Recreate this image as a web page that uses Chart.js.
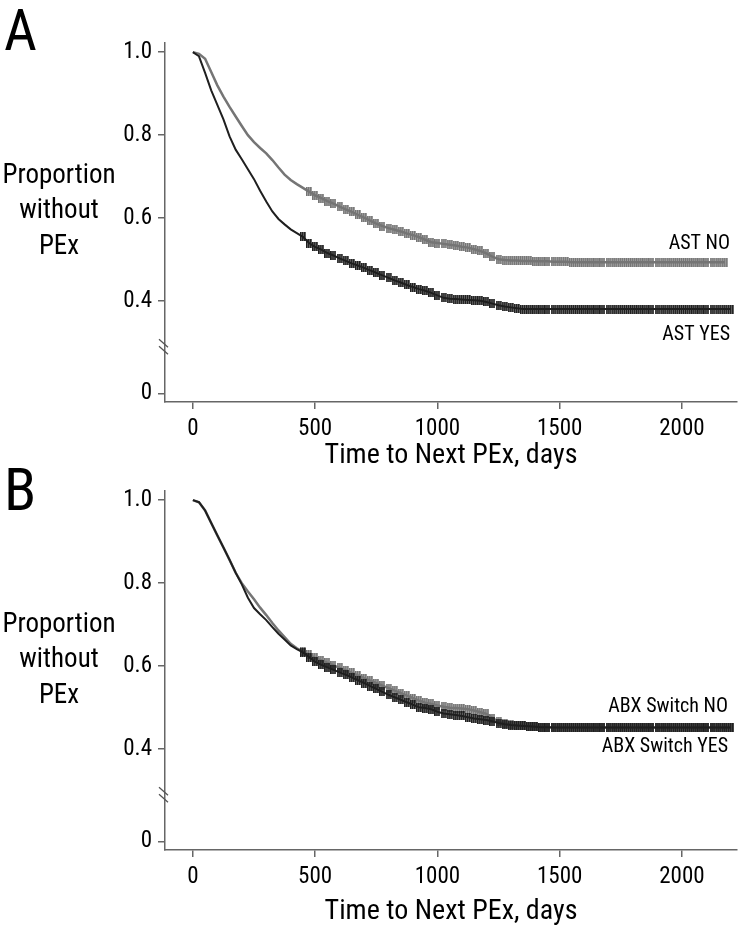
<!DOCTYPE html>
<html><head><meta charset="utf-8">
<script src="https://cdn.jsdelivr.net/npm/chart.js@4.4.0/dist/chart.umd.min.js"></script>
<style>
html,body{margin:0;padding:0;background:#fff;width:741px;height:933px;overflow:hidden;position:relative}
.p{position:absolute;left:0;width:741px}
#ca{top:0;height:470px}
#cb{top:448px;height:485px}
</style></head><body>
<div class="p" id="ca"><canvas id="a"></canvas></div>
<div class="p" id="cb"><canvas id="b"></canvas></div>
<script>
const FONT = "'Liberation Sans Narrow','Arial Narrow','Nimbus Sans Narrow','Roboto Condensed','Liberation Sans',sans-serif";

// ---- data ----
const times = [0,25,50,75,100,125,150,175,200,225,250,275,300,325,350,375,400,425,450,475,500,525,550,575,600,625,650,675,700,725,750,775,800,825,850,875,900,925,950,975,1000,1025,1050,1075,1100,1125,1150,1175,1200,1225,1250,1275,1300,1325,1350,1375,1400,1425,1450,1475,1500,1525,1550,1575,1600,1625,1650,1675,1700,1725,1750,1775,1800,1825,1850,1875,1900,1925,1950,1975,2000,2025,2050,2075,2100,2125,2150,2175,2200];

const astNo = [1.000,.996,.984,.952,.920,.893,.868,.845,.822,.800,.783,.769,.756,.740,.722,.705,.692,.682,.673,.664,.655,.648,.641,.635,.628,.621,.615,.608,.601,.594,.587,.581,.576,.572,.568,.563,.559,.554,.548,.542,.540,.538,.536,.534,.531,.529,.525,.521,.515,.507,.501,.499,.498,.498,.497,.497,.496,.496,.496,.495,.495,.495,.494,
.494,.494,.494,.494,.494,.494,.494,.494,.494,.494,.494,.494,.494,.494,.494,.494,.494,.494,.494,.494,.494,.494,.494,.494,.494];

const astYes = [1.000,.990,.950,.908,.873,.838,.797,.765,.742,.718,.694,.666,.640,.616,.598,.585,.573,.564,.555,.540,.531,.524,.516,.510,.503,.497,.491,.486,.480,.474,.468,.462,.456,.450,.445,.439,.434,.429,.425,.420,.414,.408,.406,.405,.404,.403,.402,.401,.398,.394,.390,.387,.385,.383,.381,
.381,.381,.381,.381,.381,.381,.381,.381,.381,.381,.381,.381,.381,.381,.381,.381,.381,.381,.381,.381,.381,.381,.381,.381,.381,.381,.381,.381,.381,.381,.381,.381,.381,.381];

const abxNo = [1.000,.995,.975,.945,.915,.886,.856,.825,.800,.780,.761,.741,.723,.704,.686,.670,.654,.643,.635,.628,.620,.614,.608,.602,.596,.590,.584,.578,.571,.565,.559,.553,.547,.541,.535,.529,.523,.517,.512,.509,.505,.502,.500,.499,.498,.496,.493,.489,.485,.475,.466,.462,.459,.457,.456,.455,.454,.453,.453,.452,
.452,.452,.452,.452,.452,.452,.452,.452,.452,.452,.452,.452,.452,.452,.452,.452,.452,.452,.452,.452,.452,.452,.452,.452,.452,.452,.452,.452,.452];

const abxYes = [1.000,.995,.975,.945,.915,.886,.856,.825,.797,.765,.740,.725,.711,.694,.678,.664,.650,.641,.633,.622,.610,.603,.597,.591,.585,.579,.573,.566,.559,.552,.545,.538,.531,.525,.519,.513,.507,.501,.499,.496,.490,.486,.484,.482,.480,.477,.474,.472,.470,.467,.463,.460,.458,.457,.456,.455,.454,.453,.453,.452,
.452,.452,.452,.452,.452,.452,.452,.452,.452,.452,.452,.452,.452,.452,.452,.452,.452,.452,.452,.452,.452,.452,.452,.452,.452,.452,.452,.452,.452];

const xTicks = [0,500,1000,1500,2000];
const xTickLabels = ['0','500','1000','1500','2000'];
const yTicks = [0.4,0.6,0.8,1.0];
const yTickLabels = ['0.4','0.6','0.8','1.0'];
const zeroLabel = '0';
const xTitle = 'Time to Next PEx, days';
const yTitleLines = ['Proportion','without','PEx'];

// ---- broken axis emulation ----
const Y_MIN = 0.157, Y_MAX = 1.022, ZERO_AT = 0.178, BREAK_AT = 0.29;
const GRAY = '#757575', DARK = '#1f1f1f', AXIS = '#666';

function makeMark(color){
  const c = document.createElement('canvas'); c.width = 6; c.height = 9;
  const g = c.getContext('2d'); g.fillStyle = color;
  g.fillRect(0,0,1.7,9); g.fillRect(2,0,1.7,9); g.fillRect(4,0,1.7,9);
  return c;
}

const deco = {
  id: 'deco',
  afterDraw(chart, args, o) {
    const ctx = chart.ctx, ys = chart.scales.y, x0 = chart.chartArea.left;
    ctx.save();
    const by = ys.getPixelForValue(BREAK_AT);
    ctx.strokeStyle = '#555'; ctx.lineWidth = 1.3;
    ctx.beginPath();
    ctx.moveTo(x0-6, by-7.5); ctx.lineTo(x0+3, by+0.5);
    ctx.moveTo(x0-6, by-0.5); ctx.lineTo(x0+3, by+7.5);
    ctx.stroke();
    ctx.fillStyle = '#000';
    ctx.textAlign = 'left'; ctx.textBaseline = 'alphabetic';
    ctx.font = o.letterSize + 'px ' + FONT;
    ctx.fillText(o.letter, 4, o.letterBase);
    ctx.font = '27px ' + FONT; ctx.textAlign = 'center'; ctx.textBaseline = 'middle';
    yTitleLines.forEach((t,i) => ctx.fillText(t, 59, o.titleY + i*35.5));
    ctx.font = '20px ' + FONT; ctx.textAlign = 'right';
    o.labels.forEach(l => ctx.fillText(l.text, l.x, l.y));
    ctx.restore();
  }
};

function build(id, series, o) {
  const fnt = {family: FONT, size: 23};
  const yLabels = [zeroLabel].concat(yTickLabels);
  return new Chart(document.getElementById(id), {
    type: 'line',
    data: {
      datasets: series.map(s => ({
        label: s.name,
        data: times.map((t,i) => ({x: t, y: s.values[i]})),
        borderColor: s.color, borderWidth: s.width, tension: 0, fill: false,
        pointStyle: makeMark(s.color), pointBorderWidth: 0, pointHitRadius: 0,
        pointRadius: c => (c.raw && c.raw.x >= s.censorFrom) ? 4 : 0
      }))
    },
    options: {
      responsive: true, maintainAspectRatio: false, animation: false, devicePixelRatio: 1,
      layout: {padding: {top: 43, right: 3, bottom: 0, left: 0}},
      plugins: {legend: {display: false}, tooltip: {enabled: false}, deco: o},
      scales: {
        x: {
          type: 'linear', min: -114, max: 2225,
          afterBuildTicks: s => { s.ticks = xTicks.map(v => ({value: v})); },
          afterFit: s => { s.height = o.xHeight; },
          ticks: {font: fnt, color: '#000', padding: 6, maxRotation: 0, autoSkip: false,
                  callback: (v, i) => xTickLabels[i]},
          grid: {drawOnChartArea: false, drawTicks: true, tickLength: 7, color: AXIS, lineWidth: 1.5},
          border: {display: true, color: AXIS, width: 1.5},
          title: {display: true, text: xTitle, color: '#000',
                  font: {family: FONT, size: 28, lineHeight: 1}, padding: {top: 0, bottom: o.titlePad}}
        },
        y: {
          type: 'linear', min: Y_MIN, max: Y_MAX,
          afterBuildTicks: s => { s.ticks = [ZERO_AT].concat(yTicks).map(v => ({value: v})); },
          afterFit: s => { s.width = 165; },
          ticks: {font: fnt, color: '#000', padding: 6, autoSkip: false,
                  callback: (v, i) => yLabels[i]},
          grid: {drawOnChartArea: false, drawTicks: true, tickLength: 7, color: AXIS, lineWidth: 1.5},
          border: {display: true, color: AXIS, width: 1.5}
        }
      }
    },
    plugins: [deco]
  });
}

// first dataset is drawn on top
build('a', [
  {name: 'AST YES', values: astYes, color: DARK, width: 2, censorFrom: 450},
  {name: 'AST NO', values: astNo, color: GRAY, width: 2.5, censorFrom: 460}
], {letter: 'A', letterSize: 57, letterBase: 50, titleY: 176, xHeight: 68, titlePad: 0,
    labels: [{text: 'AST NO', x: 730, y: 244}, {text: 'AST YES', x: 730, y: 335}]});

build('b', [
  {name: 'ABX Switch YES', values: abxYes, color: DARK, width: 2, censorFrom: 450},
  {name: 'ABX Switch NO', values: abxNo, color: GRAY, width: 2.5, censorFrom: 450}
], {letter: 'B', letterSize: 59, letterBase: 62, titleY: 177, xHeight: 83, titlePad: 7,
    labels: [{text: 'ABX Switch NO', x: 728, y: 259}, {text: 'ABX Switch YES', x: 728, y: 299}]});
</script>
</body></html>
